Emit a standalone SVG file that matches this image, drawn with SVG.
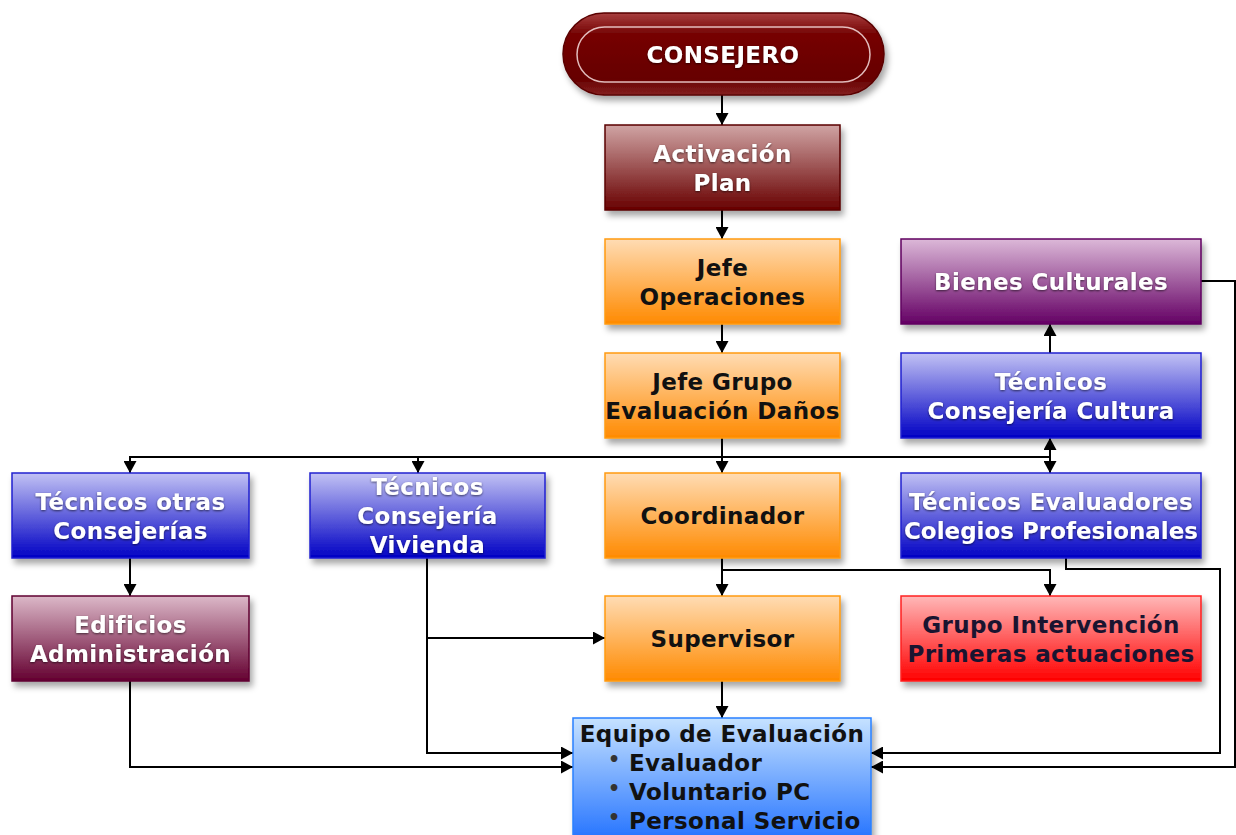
<svg xmlns="http://www.w3.org/2000/svg" width="1236" height="835" viewBox="0 0 1236 835">
<style>
.t{font-family:"DejaVu Sans","Liberation Sans",sans-serif;font-weight:bold;font-size:23px;letter-spacing:0.4px;text-anchor:middle}
.w{fill:#ffffff;filter:url(#ts)}
.k{fill:#111111}
.box{filter:url(#sh);stroke-width:1.5}
.c{fill:none;stroke:#000;stroke-width:2}
.a{marker-end:url(#ar)}
.b{font-family:"DejaVu Sans","Liberation Sans",sans-serif;font-weight:bold;font-size:19px;fill:#333;text-anchor:middle}
</style>
<defs>
<filter id="sh" x="-10%" y="-10%" width="125%" height="135%"><feDropShadow dx="3" dy="5" stdDeviation="3" flood-color="#000" flood-opacity="0.35"/></filter>
<filter id="ts" x="-10%" y="-20%" width="120%" height="150%"><feDropShadow dx="0" dy="1" stdDeviation="0.8" flood-color="#000" flood-opacity="0.6"/></filter>
<linearGradient id="gDR" x1="0" y1="0" x2="0" y2="1"><stop offset="0" stop-color="#d0a4a4"/><stop offset="1" stop-color="#680000"/></linearGradient>
<linearGradient id="gOR" x1="0" y1="0" x2="0" y2="1"><stop offset="0" stop-color="#ffdcb4"/><stop offset="1" stop-color="#ff8a00"/></linearGradient>
<linearGradient id="gBL" x1="0" y1="0" x2="0" y2="1"><stop offset="0" stop-color="#c2c2f4"/><stop offset="1" stop-color="#0000c4"/></linearGradient>
<linearGradient id="gPU" x1="0" y1="0" x2="0" y2="1"><stop offset="0" stop-color="#dcb8d8"/><stop offset="1" stop-color="#640064"/></linearGradient>
<linearGradient id="gMA" x1="0" y1="0" x2="0" y2="1"><stop offset="0" stop-color="#dcb8c8"/><stop offset="1" stop-color="#640030"/></linearGradient>
<linearGradient id="gRE" x1="0" y1="0" x2="0" y2="1"><stop offset="0" stop-color="#ffb8b8"/><stop offset="1" stop-color="#ff0000"/></linearGradient>
<linearGradient id="gLB" x1="0" y1="0" x2="0" y2="1"><stop offset="0" stop-color="#c6e2ff"/><stop offset="1" stop-color="#1a6cff"/></linearGradient>
<linearGradient id="gCO" x1="0" y1="0" x2="0" y2="1"><stop offset="0" stop-color="#a84040"/><stop offset="0.25" stop-color="#760404"/><stop offset="0.8" stop-color="#660000"/><stop offset="1" stop-color="#842020"/></linearGradient>
<marker id="ar" markerUnits="userSpaceOnUse" markerWidth="13" markerHeight="13" refX="12" refY="6.5" orient="auto"><path d="M0,0 L12,6.5 L0,13 z" fill="#000"/></marker>
</defs>

<g id="connectors">
<path class="c a" d="M722,95 V125"/>
<path class="c a" d="M722,210 V239"/>
<path class="c a" d="M722,324 V353"/>
<path class="c a" d="M722,438 V473"/>
<path class="c a" d="M722,457 H130 V473"/>
<path class="c a" d="M418,457 V473"/>
<path class="c a" d="M722,457 H1050 V473"/>
<path class="c a" d="M1050,457 V438"/>
<path class="c a" d="M1050,353 V324"/>
<path class="c a" d="M130,558 V596"/>
<path class="c a" d="M722,558 V596"/>
<path class="c a" d="M722,570 H1050 V596"/>
<path class="c a" d="M427,558 V753 H573"/>
<path class="c a" d="M427,638 H605"/>
<path class="c a" d="M130,681 V767 H573"/>
<path class="c a" d="M722,681 V718"/>
<path class="c a" d="M1201,281 H1235 V767 H871"/>
<path class="c a" d="M1066,558 V569 H1220 V753 H871"/>
</g>

<g id="consejero">
<rect class="box" x="563" y="13" width="321" height="82" rx="41" fill="url(#gCO)" stroke="#5a0000"/>
<rect x="577" y="27" width="293" height="55" rx="27.5" fill="none" stroke="#eed0d0" stroke-width="1.5" opacity="0.9"/>
<text class="t w" x="723" y="62.5">CONSEJERO</text>
</g>

<g id="activacion">
<rect class="box" x="605" y="125" width="235" height="85" fill="url(#gDR)" stroke="#5a0000"/>
<text class="t w" x="722.5" y="161.5">Activación</text>
<text class="t w" x="722.5" y="190.5">Plan</text>
</g>

<g id="jefe-operaciones">
<rect class="box" x="605" y="239" width="235" height="85" fill="url(#gOR)" stroke="#ff9a10"/>
<text class="t k" x="722.5" y="275.5">Jefe</text>
<text class="t k" x="722.5" y="304.5">Operaciones</text>
</g>

<g id="jefe-grupo">
<rect class="box" x="605" y="353" width="235" height="85" fill="url(#gOR)" stroke="#ff9a10"/>
<text class="t k" x="722.5" y="389.5">Jefe Grupo</text>
<text class="t k" x="722.5" y="418.5">Evaluación Daños</text>
</g>

<g id="bienes-culturales">
<rect class="box" x="901" y="239" width="300" height="85" fill="url(#gPU)" stroke="#600060"/>
<text class="t w" x="1051" y="290">Bienes Culturales</text>
</g>

<g id="tecnicos-cultura">
<rect class="box" x="901" y="353" width="300" height="85" fill="url(#gBL)" stroke="#2020d0"/>
<text class="t w" x="1051" y="389.5">Técnicos</text>
<text class="t w" x="1051" y="418.5">Consejería Cultura</text>
</g>

<g id="tecnicos-otras">
<rect class="box" x="12" y="473" width="237" height="85" fill="url(#gBL)" stroke="#2020d0"/>
<text class="t w" x="130.5" y="509.5">Técnicos otras</text>
<text class="t w" x="130.5" y="538.5">Consejerías</text>
</g>

<g id="tecnicos-vivienda">
<rect class="box" x="310" y="473" width="235" height="85" fill="url(#gBL)" stroke="#2020d0"/>
<text class="t w" x="427.5" y="495">Técnicos</text>
<text class="t w" x="427.5" y="524">Consejería</text>
<text class="t w" x="427.5" y="553">Vivienda</text>
</g>

<g id="coordinador">
<rect class="box" x="605" y="473" width="235" height="85" fill="url(#gOR)" stroke="#ff9a10"/>
<text class="t k" x="722.5" y="524">Coordinador</text>
</g>

<g id="tecnicos-evaluadores">
<rect class="box" x="901" y="473" width="300" height="85" fill="url(#gBL)" stroke="#2020d0"/>
<text class="t w" x="1051" y="509.5">Técnicos Evaluadores</text>
<text class="t w" x="1051" y="538.5" style="letter-spacing:0">Colegios Profesionales</text>
</g>

<g id="edificios">
<rect class="box" x="12" y="596" width="237" height="85" fill="url(#gMA)" stroke="#600030"/>
<text class="t w" x="130.5" y="632.5">Edificios</text>
<text class="t w" x="130.5" y="661.5">Administración</text>
</g>

<g id="supervisor">
<rect class="box" x="605" y="596" width="235" height="85" fill="url(#gOR)" stroke="#ff9a10"/>
<text class="t k" x="722.5" y="647">Supervisor</text>
</g>

<g id="grupo-intervencion">
<rect class="box" x="901" y="596" width="300" height="85" fill="url(#gRE)" stroke="#ff2020"/>
<text class="t" fill="#1a1430" x="1051" y="632.5">Grupo Intervención</text>
<text class="t" fill="#1a1430" x="1051" y="661.5">Primeras actuaciones</text>
</g>

<g id="equipo-evaluacion">
<rect class="box" x="573" y="718" width="298" height="130" fill="url(#gLB)" stroke="#2a80ff"/>
<text class="t k" x="722" y="742">Equipo de Evaluación</text>
<text class="b" x="614" y="766">•</text>
<text class="b" x="614" y="795">•</text>
<text class="b" x="614" y="824">•</text>
<text class="t k" x="629" y="771" style="text-anchor:start">Evaluador</text>
<text class="t k" x="629" y="800" style="text-anchor:start">Voluntario PC</text>
<text class="t k" x="629" y="829" style="text-anchor:start">Personal Servicio</text>
</g>
</svg>
